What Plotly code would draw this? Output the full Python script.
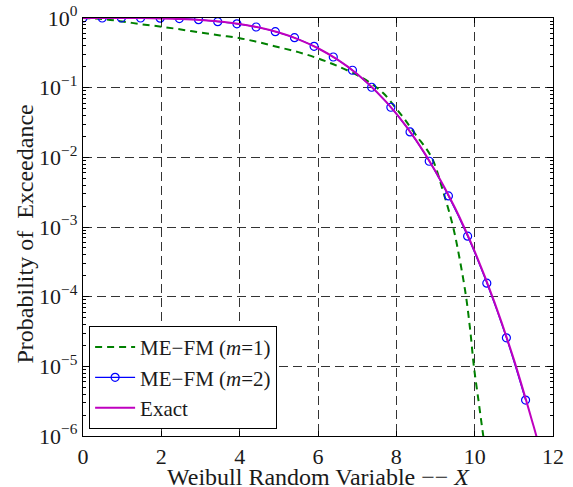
import plotly.graph_objects as go

# ---- data ----
# ME-FM (m=1), dashed green: (x, log10 P)
m1_x = [0.0, 0.5, 1.0, 1.5, 2.0, 2.5, 3.0, 3.5, 4.0, 4.5, 5.0, 5.5, 6.0, 6.5, 7.0,
        7.33, 7.67, 8.0, 8.22, 8.5, 8.9, 9.2, 9.45, 9.63, 9.78, 9.89, 9.98, 10.1, 10.22, 10.3]
m1_logp = [0.0, -0.015, -0.05, -0.09, -0.125, -0.165, -0.21, -0.25, -0.29, -0.35, -0.42,
           -0.49, -0.58, -0.69, -0.82, -0.93, -1.08, -1.30, -1.46, -1.68, -2.0, -2.5,
           -3.0, -3.5, -4.0, -4.5, -5.0, -5.5, -6.0, -6.3]

# ME-FM (m=2), blue circles
m2_x = [0.0, 0.49, 0.98, 1.47, 1.97, 2.46, 2.95, 3.44, 3.93, 4.42, 4.91, 5.40,
        5.90, 6.39, 6.88, 7.37, 7.86, 8.35, 8.84, 9.33, 9.82, 10.31, 10.81, 11.30]
m2_logp = [0.0, 0.0, 0.0, 0.0, -0.002, -0.008, -0.024, -0.053, -0.084, -0.129, -0.197,
           -0.283, -0.406, -0.560, -0.750, -0.994, -1.281, -1.636, -2.056, -2.554,
           -3.132, -3.806, -4.591, -5.485]

# Exact, solid magenta
ex_x = [0.0, 0.5, 1.0, 1.5, 2.0, 2.5, 3.0, 3.5, 4.0, 4.5, 5.0, 5.5, 6.0, 6.5, 7.0,
        7.5, 8.0, 8.5, 9.0, 9.5, 10.0, 10.5, 11.0, 11.5, 11.6]
ex_logp = [0.0, 0.0, -0.0003, -0.0017, -0.0054, -0.013, -0.027, -0.050, -0.086, -0.137,
           -0.209, -0.306, -0.434, -0.598, -0.804, -1.060, -1.372, -1.749, -2.198,
           -2.728, -3.350, -4.07, -4.90, -5.85, -6.05]

y_tickvals = [1e-6, 1e-5, 1e-4, 1e-3, 1e-2, 1e-1, 1e0]
y_ticktext = ["10<sup>\u22126</sup>", "10<sup>\u22125</sup>", "10<sup>\u22124</sup>",
              "10<sup>\u22123</sup>", "10<sup>\u22122</sup>", "10<sup>\u22121</sup>",
              "10<sup>0</sup>"]
y_minor_decades = [-6, -5, -4, -3, -2, -1]
y_minor_digits = [2, 3, 4, 5, 6, 7, 8, 9]
x_tickvals = [0, 2, 4, 6, 8, 10, 12]

x_title = "Weibull Random Variable \u2212\u2212 <i>X</i>"
y_title = "Probability of\u00a0 Exceedance"

def to_p(v):
    return [10 ** a for a in v]

y_minor_vals = [d * 10 ** e for e in y_minor_decades for d in y_minor_digits]

FONT = "Liberation Serif"
TXT = "#1a1a1a"

fig = go.Figure()
fig.add_trace(go.Scatter(x=m1_x, y=to_p(m1_logp), mode="lines", name="ME\u2212FM (<i>m</i>=1)",
                         line=dict(color="#008000", width=2, dash="7px,5px", shape="spline")))
fig.add_trace(go.Scatter(x=m2_x, y=to_p(m2_logp), mode="lines+markers",
                         name="ME\u2212FM (<i>m</i>=2)",
                         line=dict(color="#0000ff", width=1.2, shape="spline"),
                         marker=dict(symbol="circle-open", size=8, color="#0000ff",
                                     line=dict(width=1.2, color="#0000ff"))))
fig.add_trace(go.Scatter(x=ex_x, y=to_p(ex_logp), mode="lines", name="Exact",
                         line=dict(color="#bf00bf", width=2, shape="spline")))
# empty helper trace so the minor-tick axis is drawn
fig.add_trace(go.Scatter(x=[], y=[], yaxis="y2", showlegend=False, hoverinfo="skip"))

fig.update_layout(
    width=573, height=487,
    margin=dict(l=83, r=20, t=18, b=51, autoexpand=False),
    paper_bgcolor="white", plot_bgcolor="white",
    font=dict(family=FONT, size=22, color=TXT),
    showlegend=True,
    legend=dict(x=0.013, y=0.017, xanchor="left", yanchor="bottom",
                bgcolor="white", bordercolor="black", borderwidth=1,
                font=dict(family=FONT, size=21, color=TXT),
                tracegroupgap=0, itemwidth=40),
    annotations=[
        dict(text=x_title, xref="paper", yref="paper", x=0.5, y=-0.097,
             xanchor="center", yanchor="middle", showarrow=False,
             font=dict(family=FONT, size=24, color=TXT)),
        dict(text=y_title, xref="paper", yref="paper", x=-0.1234, y=0.482,
             xanchor="center", yanchor="middle", showarrow=False, textangle=-90,
             font=dict(family=FONT, size=24, color=TXT)),
    ],
    yaxis2=dict(
        overlaying="y", side="left", type="log", range=[-6, 0],
        tickvals=y_minor_vals, ticks="inside", ticklen=3, tickcolor="black",
        showticklabels=False, showgrid=False, zeroline=False,
        showline=True, linecolor="black", linewidth=1.2, mirror="ticks",
        automargin=False,
    ),
)
fig.update_xaxes(
    range=[0, 12], tickvals=x_tickvals, ticks="inside", ticklen=5, tickcolor="black",
    showline=True, linecolor="black", linewidth=1.2, mirror="ticks",
    showgrid=True, gridcolor="#333333", griddash="9px,5px", gridwidth=1,
    zeroline=False, automargin=False,
    tickfont=dict(family=FONT, size=22, color=TXT),
)
fig.update_layout(yaxis=dict(
    type="log", range=[-6, 0], tickvals=y_tickvals, ticktext=y_ticktext,
    ticks="inside", ticklen=6, tickcolor="black",
    showline=True, linecolor="black", linewidth=1.2, mirror="ticks",
    showgrid=True, gridcolor="#333333", griddash="9px,5px", gridwidth=1,
    zeroline=False, automargin=False,
    tickfont=dict(family=FONT, size=22, color=TXT),
))

fig.write_html("out.html")
